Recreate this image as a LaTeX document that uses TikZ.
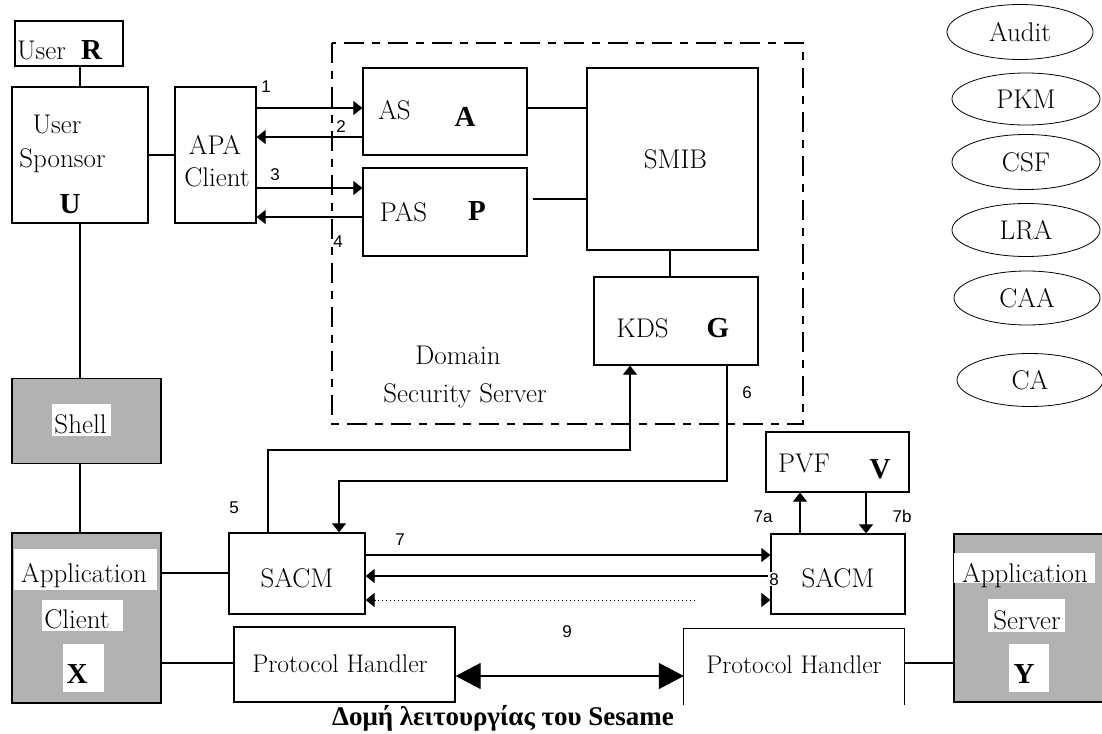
\documentclass[tikz,border=0pt]{standalone}
\usepackage{fontspec}
\usetikzlibrary{arrows.meta,shapes.geometric}
\newfontfamily\boldserif{Liberation Serif}
\newfontfamily\numfont{Liberation Sans}
\tikzset{
  box/.style={draw, line width=1.2pt, inner sep=0pt},
  gbox/.style={draw, line width=1.2pt, inner sep=0pt, fill=gray!60},
  lbl/.style={font=\fontsize{27}{32}\selectfont, inner sep=0pt, anchor=base},
  phlbl/.style={font=\fontsize{25.5}{30}\selectfont, inner sep=0pt, anchor=base},
  bigl/.style={font=\boldserif\bfseries\fontsize{29}{34}\selectfont, inner sep=0pt, anchor=base},
  num/.style={font=\numfont\fontsize{17}{20}\selectfont, inner sep=0pt, anchor=base},
  ell/.style={draw, ellipse, line width=0.8pt, inner sep=0pt, font=\fontsize{27}{32}\selectfont},
  conn/.style={line width=1.1pt},
  tip/.style={-{Triangle[length=9pt,width=14pt]}},
  bigtips/.style={{Triangle[length=25pt,width=26pt]}-{Triangle[length=25pt,width=26pt]}},
  dashbox/.style={line width=1.1pt, dash pattern=on 20pt off 8pt on 8pt off 8pt},
  fine dots/.style={line width=0.8pt, dash pattern=on 1pt off 3pt},
}
\begin{document}
\begin{tikzpicture}[x=1pt,y=-1pt]
\useasboundingbox (0,0) rectangle (1102,733);

% boxes
\node[box, minimum width=108pt, minimum height=45pt] (userR) at (69,43.5) {};
\node[box, minimum width=136pt, minimum height=136pt] (us) at (80,155) {};
\node[box, minimum width=81pt, minimum height=136pt] (apa) at (215.5,155) {};
\node[box, minimum width=164pt, minimum height=87pt] (as) at (445,111.5) {};
\node[box, minimum width=164pt, minimum height=88pt] (pas) at (445,212) {};
\node[box, minimum width=171pt, minimum height=182pt] (smib) at (672.5,159) {};
\node[box, minimum width=164pt, minimum height=88pt] (kds) at (676,321) {};
\node[gbox, minimum width=149pt, minimum height=85pt] (shell) at (86.5,421) {};
\node[gbox, minimum width=149pt, minimum height=170pt] (appc) at (86.5,618) {};
\node[box, minimum width=136pt, minimum height=81pt] (sacmL) at (297,573.5) {};
\node[box, minimum width=221pt, minimum height=75pt] (phL) at (344.5,664.5) {};
\node[box, minimum width=143pt, minimum height=60pt] (pvf) at (837.5,462) {};
\node[box, minimum width=134pt, minimum height=80pt] (sacmR) at (838,574) {};
\node[inner sep=0pt, minimum width=220pt, minimum height=76pt] (phR) at (794,667) {};
\draw[line width=1.2pt] (phR.south west) -- (phR.north west) -- (phR.north east) -- (phR.south east);
\node[gbox, minimum width=156pt, minimum height=168pt] (apps) at (1032,618) {};

% domain security server
\draw[dashbox] (332,43) rectangle (803,424);

% ellipses
\node[ell, minimum width=146pt, minimum height=55pt] (audit) at (1020,32) {Audit};
\node[ell, minimum width=148pt, minimum height=52pt] (pkm) at (1026,99) {PKM};
\node[ell, minimum width=148pt, minimum height=55pt] (csf) at (1026,162) {CSF};
\node[ell, minimum width=148pt, minimum height=53pt] (lra) at (1026,230) {LRA};
\node[ell, minimum width=146pt, minimum height=54pt] (caa) at (1027,298) {CAA};
\node[ell, minimum width=146pt, minimum height=53pt] (ca) at (1030,380) {CA};

% white patches behind texts in grey boxes
\fill[white] (52,404) rectangle (111,436);
\fill[white] (14,549) rectangle (157,590);
\fill[white] (42,600) rectangle (123,631);
\fill[white] (63,644) rectangle (104,692);
\fill[white] (954,553) rectangle (1095,583);
\fill[white] (988,599) rectangle (1065,632);
\fill[white] (1009,644) rectangle (1049,692);

% texts
\node[lbl] (tUser) at (41.5,60) {User};
\node[bigl] (tR) at (91.5,60) {R};
\node[lbl] (tUser2) at (57,133) {User};
\node[lbl] (tSponsor) at (62.5,167) {Sponsor};
\node[bigl] (tU) at (70,213) {U};
\node[lbl] (tAPA) at (215,154) {APA};
\node[lbl] (tClient) at (217,186) {Client};
\node[lbl] (tAS) at (394.5,120) {AS};
\node[bigl] (tA) at (465,126) {A};
\node[lbl] (tPAS) at (403.5,221) {PAS};
\node[bigl] (tP) at (477,220) {P};
\node[lbl] (tSMIB) at (675.5,168) {SMIB};
\node[lbl] (tKDS) at (642.5,337) {KDS};
\node[bigl] (tG) at (718,337) {G};
\node[lbl] (tDomain) at (458,364) {Domain};
\node[lbl] (tSec) at (465,402) {Security Server};
\node[lbl] (tShell) at (80.5,433) {Shell};
\node[lbl] (tAppC) at (84,582) {Application};
\node[lbl] (tCli) at (77,628) {Client};
\node[bigl] (tX) at (77,683) {X};
\node[lbl] (tSacmL) at (297,587) {SACM};
\node[phlbl] (tPhL) at (340,672) {Protocol Handler};
\node[lbl] (tPVF) at (804,472) {PVF};
\node[bigl] (tV) at (880,478) {V};
\node[lbl] (tSacmR) at (838,587) {SACM};
\node[phlbl] (tPhR) at (794,673) {Protocol Handler};
\node[lbl] (tAppS) at (1025,582) {Application};
\node[lbl] (tServer) at (1027,629) {Server};
\node[bigl] (tY) at (1024,683) {Y};

% connectors
\draw[conn] (userR.south -| us.north) -- (us.north);
\draw[conn] (us.east) -- (apa.west);
\draw[conn,tip] (apa.east |- 0,108) -- (as.west |- 0,108);
\draw[conn,tip] (as.west |- 0,137) -- (apa.east |- 0,137);
\draw[conn,tip] (apa.east |- 0,188) -- (pas.west |- 0,188);
\draw[conn,tip] (pas.west |- 0,217) -- (apa.east |- 0,217);
\draw[conn] (as.east |- 0,108) -- (smib.west |- 0,108);
\draw[conn] (533,199) -- (smib.west |- 0,199);
\draw[conn] (smib.south -| 670,0) -- (kds.north -| 670,0);
\draw[conn] (us.south) -- (shell.north -| us.south);
\draw[conn] (shell.south -| 80,0) -- (appc.north -| 80,0);
\draw[conn,tip] (sacmL.north -| 268,0) |- (630,450) -- (kds.south -| 630,0);
\draw[conn,tip] (kds.south -| 727,0) |- (339,481) -- (sacmL.north -| 339,0);
\draw[conn] (appc.east |- 0,573) -- (sacmL.west |- 0,573);
\draw[conn,tip] (sacmL.east |- 0,555) -- (sacmR.west |- 0,555);
\draw[conn,tip] (sacmR.west |- 0,576) -- (sacmL.east |- 0,576);
\coordinate (dotend) at (695,600);
\draw[fine dots] (dotend) -- ([xshift=9pt]sacmL.east |- dotend);
\draw[conn,tip] ([xshift=9pt]sacmL.east |- dotend) -- (sacmL.east |- dotend);
\draw[conn,tip] ([xshift=-9pt]sacmR.west |- dotend) -- (sacmR.west |- dotend);
\draw[conn,tip] (sacmR.north -| 800,0) -- (pvf.south -| 800,0);
\draw[conn,tip] (pvf.south -| 866,0) -- (sacmR.north -| 866,0);
\draw[conn] (appc.east |- 0,663) -- (phL.west |- 0,663);
\draw[conn,bigtips] (phL.east |- 0,676) -- (phR.west |- 0,676);
\draw[conn] (phR.east |- 0,663) -- (apps.west |- 0,663);

% numbers
\node[num] (n1) at (266,93) {1};
\node[num] (n2) at (341,132) {2};
\node[num] (n3) at (275,180) {3};
\node[num] (n4) at (338,247) {4};
\node[num] (n5) at (234,513) {5};
\node[num] (n6) at (747,398) {6};
\node[num] (n7) at (400,545) {7};
\node[num] (n7a) at (763,522) {7a};
\node[num] (n7b) at (902,522) {7b};
\node[num, fill=white, inner sep=1pt] (n8) at (774,585) {8};
\node[num] (n9) at (567,637) {9};

% caption
\node[font=\boldserif\bfseries\fontsize{27}{31}\selectfont, inner sep=0pt, anchor=base] (cap) at (503,725) {Δομή λειτουργίας του Sesame};
\end{tikzpicture}
\end{document}
